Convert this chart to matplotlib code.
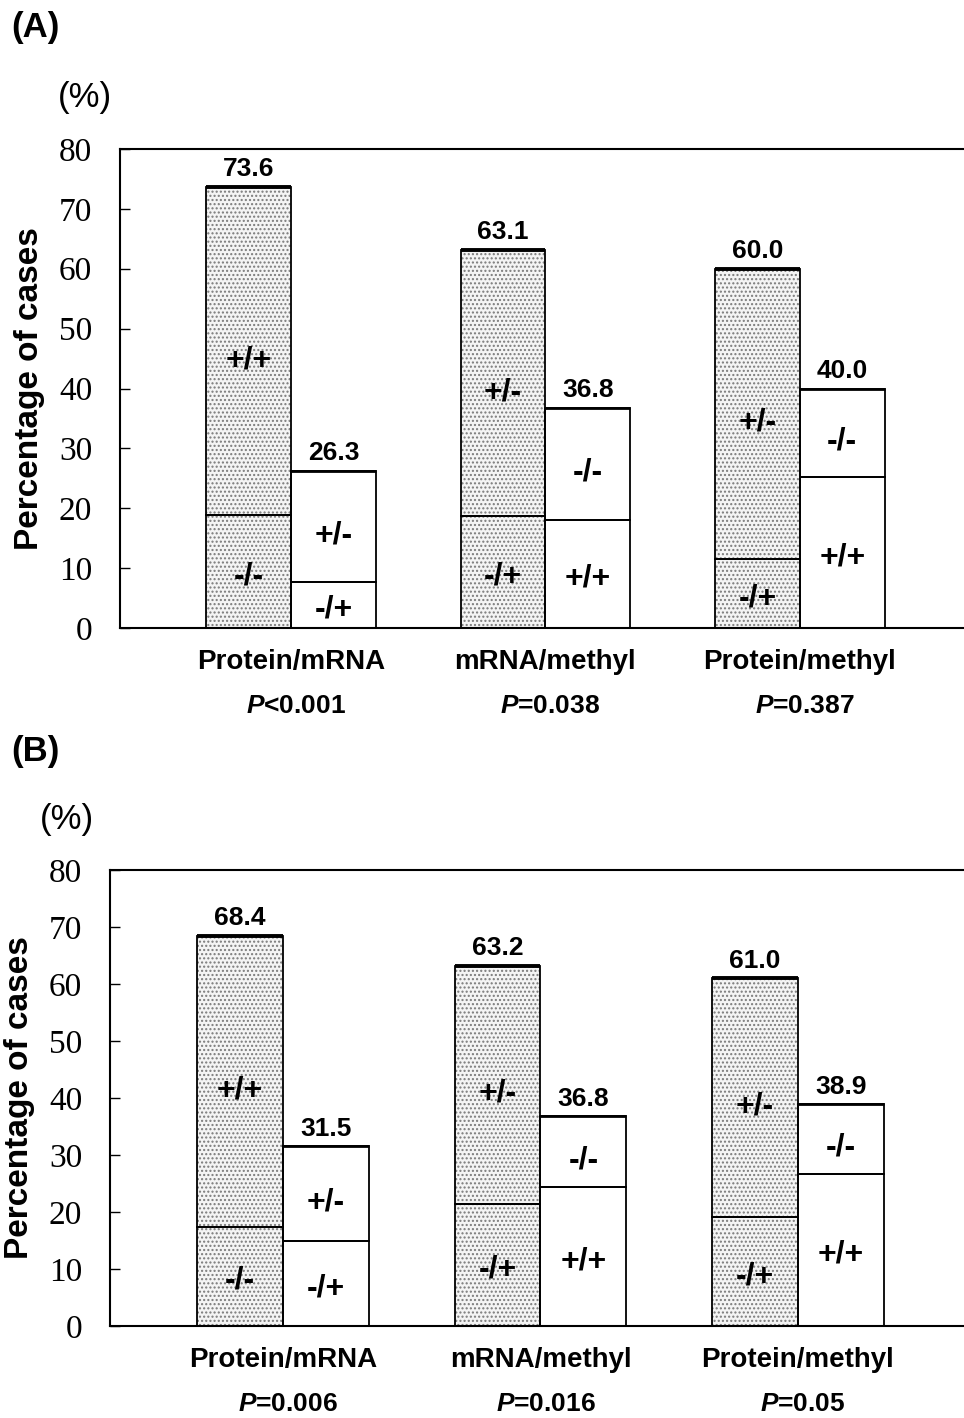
import numpy as np
import matplotlib
matplotlib.use('Agg')
import matplotlib.pyplot as plt

plt.rcParams['font.family'] = ['Liberation Sans', 'DejaVu Sans']
plt.rcParams['mathtext.fontset'] = 'custom'
plt.rcParams['mathtext.it'] = 'Liberation Sans:italic:bold'
plt.rcParams['hatch.linewidth'] = 1.0

categories = ['Protein/mRNA', 'mRNA/methyl', 'Protein/methyl']

# panel A
a_total1 = [73.6, 63.1, 60.0]
a_lower1 = [18.9, 18.7, 11.5]
a_total2 = [26.3, 36.8, 40.0]
a_lower2 = [7.7, 18.0, 25.2]
a_pvals = ['<0.001', '=0.038', '=0.387']

# panel B
b_total1 = [68.4, 63.2, 61.0]
b_lower1 = [17.4, 21.4, 19.1]
b_total2 = [31.5, 36.8, 38.9]
b_lower2 = [14.9, 24.4, 26.7]
b_pvals = ['=0.006', '=0.016', '=0.05']

# segment labels (same for both panels)
lab1_lower = ['-/-', '-/+', '-/+']
lab1_upper = ['+/+', '+/-', '+/-']
lab2_lower = ['-/+', '+/+', '+/+']
lab2_upper = ['+/-', '-/-', '-/-']

yticks = [0, 10, 20, 30, 40, 50, 60, 70, 80]

W, H = 964, 1418
fig = plt.figure(figsize=(W / 100, H / 100), dpi=100)


def px_box(left, top, bottom):
    return [left / W, 1 - bottom / H, 1 - left / W, (bottom - top) / H]


def stacked(ax, x, total, lower, lab_low, lab_up, dotted):
    w = 1 / 3
    if dotted:
        ax.bar(x, total, w, align='edge', color='#f4f4f4', edgecolor='#7a7a7a',
               hatch='....', linewidth=0, zorder=1)
    ax.bar(x, lower, w, align='edge', fill=False, edgecolor='black', linewidth=1.3, zorder=2)
    ax.bar(x, np.array(total) - np.array(lower), w, bottom=lower, align='edge',
           fill=False, edgecolor='black', linewidth=1.3, zorder=2)
    ax.hlines(total, x, x + w, color='black', linewidth=2.8 if dotted else 2.0, zorder=3)
    for xi, t, lo, l1, l2 in zip(x, total, lower, lab_low, lab_up):
        ax.text(xi + w / 2, t + 1.0, '%.1f' % t, ha='center', va='bottom',
                fontsize=19, fontweight='bold')
        # labels sit a little below the segment middle
        ax.text(xi + w / 2, lo / 2 - 0.8, l1, ha='center', va='center',
                fontsize=23, fontweight='bold')
        ax.text(xi + w / 2, (lo + t) / 2 - 1.5, l2, ha='center', va='center',
                fontsize=23, fontweight='bold')


def panel(box, tot1, low1, tot2, low2, pvals):
    ax = fig.add_axes(box)
    x = np.arange(len(categories))
    stacked(ax, x - 1 / 3, tot1, low1, lab1_lower, lab1_upper, True)
    stacked(ax, x, tot2, low2, lab2_lower, lab2_upper, False)
    ax.set_xlim(-0.672, 2.645)
    ax.set_ylim(0, 80)
    ax.set_yticks(yticks)
    ax.set_yticklabels([str(v) for v in yticks], family='Liberation Serif', fontsize=24)
    ax.tick_params(axis='y', direction='in', length=7, width=1, pad=20)
    ax.set_xticks([])
    ax.spines['right'].set_visible(False)
    for s in ['left', 'top', 'bottom']:
        ax.spines[s].set_linewidth(1.5)
    for xi, c, p in zip(x, categories, pvals):
        ax.annotate(c, (xi, 0), xycoords=('data', 'axes fraction'),
                    xytext=(0, -34), textcoords='offset pixels',
                    ha='center', va='center', fontsize=20, fontweight='bold')
        ax.annotate(r'$\mathit{P}$' + p, (xi + 0.02, 0), xycoords=('data', 'axes fraction'),
                    xytext=(0, -78), textcoords='offset pixels',
                    ha='center', va='center', fontsize=19, fontweight='bold')
    return ax


panel(px_box(120, 149, 628), a_total1, a_lower1, a_total2, a_lower2, a_pvals)
panel(px_box(110, 870, 1326), b_total1, b_lower1, b_total2, b_lower2, b_pvals)

fig.text(35 / W, 1 - 28 / H, '(A)', ha='center', va='center', fontsize=25, fontweight='bold')
fig.text(35 / W, 1 - 752 / H, '(B)', ha='center', va='center', fontsize=25, fontweight='bold')
fig.text(85 / W, 1 - 97 / H, '(%)', ha='center', va='center', fontsize=25)
fig.text(67 / W, 1 - 820 / H, '(%)', ha='center', va='center', fontsize=25)
fig.text(30 / W, 1 - 389 / H, 'Percentage of cases', rotation=90, ha='center', va='center',
         fontsize=24, fontweight='bold')
fig.text(20 / W, 1 - 1098 / H, 'Percentage of cases', rotation=90, ha='center', va='center',
         fontsize=24, fontweight='bold')

fig.savefig('out.png', dpi=100)
